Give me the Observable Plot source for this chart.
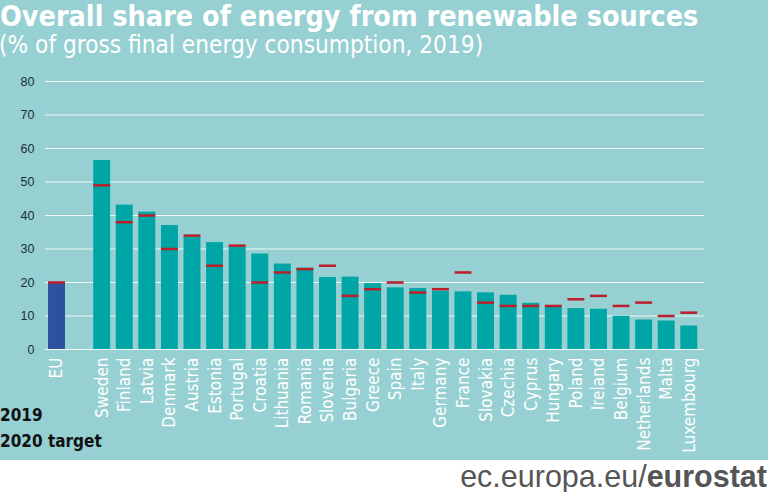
<!DOCTYPE html>
<html>
<head>
<meta charset="utf-8">
<script src="https://cdn.jsdelivr.net/npm/d3@7"></script>
<script src="https://cdn.jsdelivr.net/npm/@observablehq/plot@0.6"></script>
<style>
  html, body { margin: 0; padding: 0; background: #ffffff; }
  body { width: 768px; height: 492px; overflow: hidden; position: relative; }
  #panel { position: absolute; left: 0; top: 0; width: 768px; height: 460px; background: #96d0d2; overflow: hidden; }
  .cond { font-family: "Liberation Sans Narrow", "DejaVu Sans Condensed", "DejaVu Sans", sans-serif; font-stretch: condensed; line-height: 1; }
  #title { position: absolute; left: 0; top: 0; color: #ffffff; font-weight: bold; font-size: 28.5px; line-height: normal; white-space: nowrap; }
  #subtitle { position: absolute; left: -1px; top: 33px; color: #ffffff; font-size: 24.2px; white-space: nowrap; }
  #chart { position: absolute; left: 0; top: 0; }
  .leg { position: absolute; left: 0; color: #111111; font-weight: bold; font-size: 17px; white-space: nowrap; }
  #footer { position: absolute; right: 1px; top: 460px; color: #555555; font-family: "Liberation Sans", Arial, sans-serif; font-size: 30.5px; line-height: 1.1; white-space: nowrap; }
  #footer b { font-weight: bold; }
</style>
</head>
<body>
<div id="panel">
  <div id="chart"></div>
  <div id="title" class="cond">Overall share of energy from renewable sources</div>
  <div id="subtitle" class="cond">(% of gross final energy consumption, 2019)</div>
  <div class="leg cond" style="top:407px">2019</div>
  <div class="leg cond" style="top:433px">2020 target</div>
</div>
<div id="footer">ec.europa.eu/<b>eurostat</b></div>
<script>
const countries = ["EU", "Sweden", "Finland", "Latvia", "Denmark", "Austria", "Estonia", "Portugal", "Croatia", "Lithuania", "Romania", "Slovenia", "Bulgaria", "Greece", "Spain", "Italy", "Germany", "France", "Slovakia", "Czechia", "Cyprus", "Hungary", "Poland", "Ireland", "Belgium", "Netherlands", "Malta", "Luxembourg"];
const share2019 = [19.7, 56.4, 43.1, 41.0, 37.0, 33.6, 31.9, 30.6, 28.5, 25.5, 24.3, 21.5, 21.6, 19.7, 18.4, 18.2, 17.4, 17.2, 16.9, 16.2, 13.8, 12.6, 12.2, 12.0, 9.9, 8.8, 8.5, 7.0];
const target2020 = [20, 49, 38, 40, 30, 34, 25, 31, 20, 23, 24, 25, 16, 18, 20, 17, 18, 23, 14, 13, 13, 13, 15, 16, 13, 14, 10, 11];
const yTicks = [0, 10, 20, 30, 40, 50, 60, 70, 80];

const data = countries.map((c, i) => ({country: c, value: share2019[i], target: target2020[i]}));
const domain = [countries[0], " ", ...countries.slice(1)];
const font = '"Liberation Sans Narrow", "DejaVu Sans Condensed", "DejaVu Sans", sans-serif';

const chart = Plot.plot({
  width: 768,
  height: 460,
  marginTop: 81,
  marginBottom: 111,
  marginLeft: 45,
  marginRight: 64,
  style: {background: "transparent", fontFamily: "Liberation Sans, Arial, sans-serif", overflow: "visible"},
  x: {domain, range: [42.4, 702.9], padding: 0.25, round: false, label: null},
  y: {domain: [0, 80], label: null},
  marks: [
    Plot.gridY(yTicks, {stroke: "#ffffff", strokeOpacity: 0.85, strokeWidth: 1}),
    Plot.barY(data, {x: "country", y: "value", fill: d => d.country === "EU" ? "#2c519f" : "#00a5a6"}),
    Plot.tickY(data, {x: "country", y: "target", stroke: "#bb1f2b", strokeWidth: 2.5}),
    Plot.ruleY([0], {x1: 45, x2: 704, stroke: "#1d5e66", strokeWidth: 2}),
    Plot.axisY({ticks: yTicks, tickSize: 0, tickPadding: 11, fontSize: 12.5, fill: "#1b2f33", label: null}),
    Plot.axisX({tickSize: 0, tickRotate: -90, tickPadding: 8, fontSize: 17, fill: "#ffffff", fontFamily: font, label: null})
  ]
});
document.getElementById("chart").appendChild(chart);
</script>
</body>
</html>
